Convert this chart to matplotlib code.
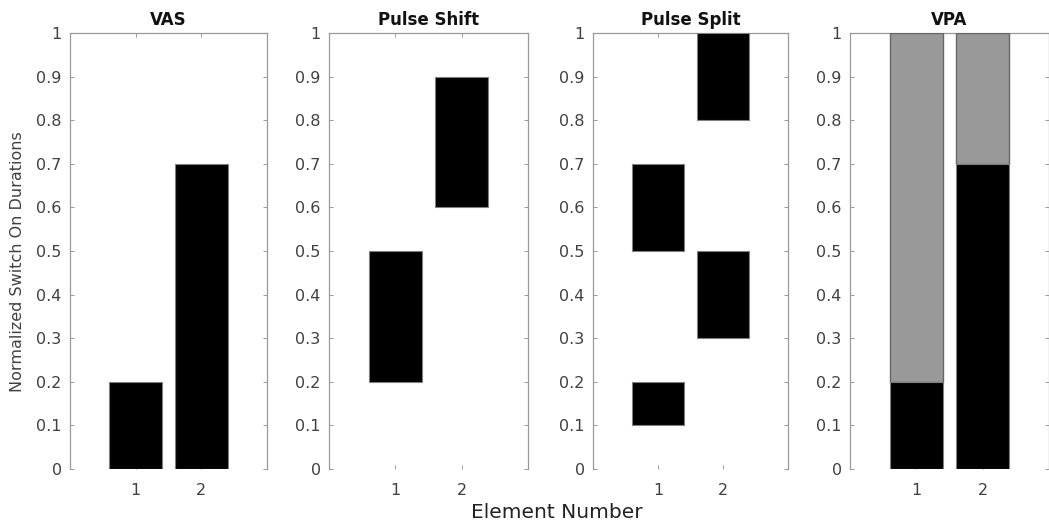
import matplotlib
matplotlib.use("Agg")
import matplotlib.pyplot as plt
import numpy as np

plt.rcParams['font.family'] = ['DejaVu Sans']

elements = [1, 2]
tick_labels = ['1', '2']

# VAS: pulse starts at 0 and lasts the on-duration
vas_on = [0.2, 0.7]

# Pulse shift: one pulse per element, shifted in time
shift_start = [0.2, 0.6]
shift_end = [0.5, 0.9]

# Pulse split: two pulses per element
split_a_start = [0.1, 0.3]
split_a_end = [0.2, 0.5]
split_b_start = [0.5, 0.8]
split_b_end = [0.7, 1.0]

# VPA: on-duration plus the remaining off part up to full period
vpa_on = [0.2, 0.7]
vpa_total = [1.0, 1.0]

titles = ['VAS', 'Pulse Shift', 'Pulse Split', 'VPA']
y_ticks = [0, 0.1, 0.2, 0.3, 0.4, 0.5, 0.6, 0.7, 0.8, 0.9, 1]
y_tick_labels = ['0', '0.1', '0.2', '0.3', '0.4', '0.5', '0.6', '0.7', '0.8', '0.9', '1']

W, H = 1049, 523
fig = plt.figure(figsize=(W / 100, H / 100), dpi=100)

lefts = [70, 329, 593, 850]
widths = [197, 199, 195, 199]
top_px, bottom_px = 33, 469

axes = []
for l, w in zip(lefts, widths):
    ax = fig.add_axes([l / W, 1 - bottom_px / H, w / W, (bottom_px - top_px) / H])
    axes.append(ax)

bar_w = 0.8
black_kw = dict(width=bar_w, color='black', edgecolor='#808080', linewidth=0.8, zorder=3)
gray_kw = dict(width=bar_w, color='#999999', edgecolor='#666666', linewidth=1.0, zorder=3)

x = np.array(elements)

axes[0].bar(x, vas_on, **black_kw)

axes[1].bar(x, np.subtract(shift_end, shift_start), bottom=shift_start, **black_kw)

axes[2].bar(x, np.subtract(split_a_end, split_a_start), bottom=split_a_start, **black_kw)
axes[2].bar(x, np.subtract(split_b_end, split_b_start), bottom=split_b_start, **black_kw)

axes[3].bar(x, np.subtract(vpa_total, vpa_on), bottom=vpa_on, **gray_kw)
axes[3].bar(x, vpa_on, **black_kw)

for ax, title in zip(axes, titles):
    ax.set_xlim(0, 3)
    ax.set_ylim(0, 1)
    ax.set_xticks(elements)
    ax.set_xticklabels(tick_labels)
    ax.set_yticks(y_ticks)
    ax.set_yticklabels(y_tick_labels)
    ax.tick_params(direction='in', length=3, width=0.7, color='#999999',
                   labelcolor='#404040', labelsize=11.5,
                   top=True, right=True, pad=6)
    ax.tick_params(axis='x', pad=10)
    for side in ['left', 'right', 'top']:
        ax.spines[side].set_color('#999999')
        ax.spines[side].set_linewidth(0.9)
    ax.spines['bottom'].set_visible(False)
    ax.set_title(title, fontsize=12, fontweight='bold', color='#111111', pad=6)

fig.text(18 / W, 1 - 262 / H, 'Normalized Switch On Durations', rotation=90,
         ha='center', va='center', fontsize=11.5, color='#404040')
fig.text(557 / W, 1 - 512 / H, 'Element Number', ha='center', va='center',
         fontsize=14.5, color='#222222')

fig.savefig('out.png', dpi=100)
